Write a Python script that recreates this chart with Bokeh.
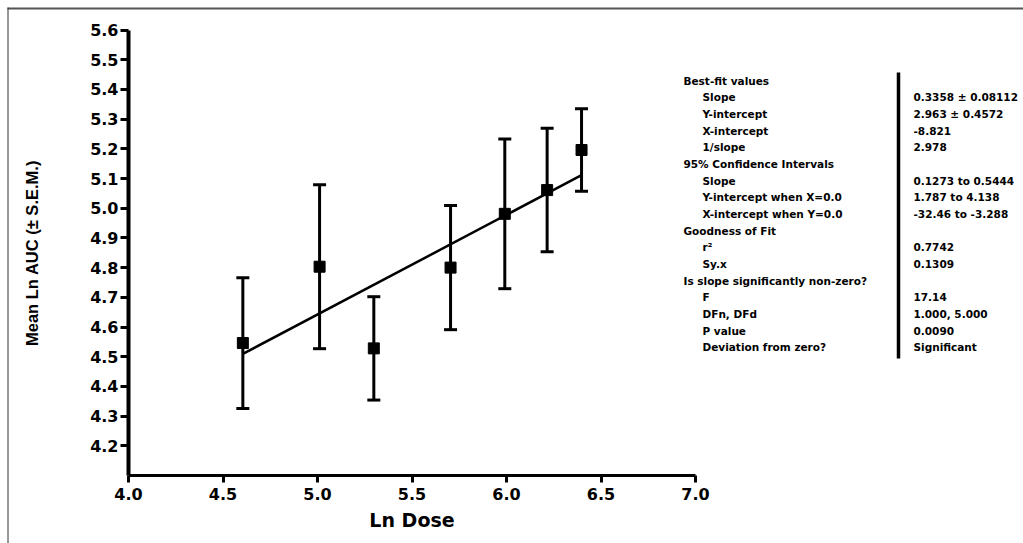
from bokeh.plotting import figure
from bokeh.models import (LinearAxis, FixedTicker, Range1d, ColumnDataSource,
                          Whisker, TeeHead, PrintfTickFormatter)
from bokeh.core.properties import value
from bokeh.embed import file_html
from bokeh.resources import INLINE

# ---------------- data ----------------
ln_dose = [4.605, 5.011, 5.298, 5.704, 5.991, 6.215, 6.397]
mean_ln_auc = [4.546, 4.803, 4.528, 4.800, 4.981, 5.061, 5.196]
sem = [0.220, 0.276, 0.174, 0.209, 0.252, 0.208, 0.139]
fit_slope = 0.3358
fit_intercept = 2.963

x_ticks = [4.0, 4.5, 5.0, 5.5, 6.0, 6.5, 7.0]
y_ticks = [4.2, 4.3, 4.4, 4.5, 4.6, 4.7, 4.8, 4.9, 5.0, 5.1, 5.2, 5.3, 5.4, 5.5, 5.6]

table_labels = ["Best-fit values", "Slope", "Y-intercept", "X-intercept", "1/slope",
                "95% Confidence Intervals", "Slope", "Y-intercept when X=0.0",
                "X-intercept when Y=0.0", "Goodness of Fit", "r²", "Sy.x",
                "Is slope significantly non-zero?", "F", "DFn, DFd", "P value",
                "Deviation from zero?"]
table_indent = [0, 1, 1, 1, 1, 0, 1, 1, 1, 0, 1, 1, 0, 1, 1, 1, 1]
table_values = ["", "0.3358 ± 0.08112", "2.963 ± 0.4572", "-8.821", "2.978", "",
                "0.1273 to 0.5444", "1.787 to 4.138", "-32.46 to -3.288", "",
                "0.7742", "0.1309", "", "17.14", "1.000, 5.000", "0.0090", "Significant"]

# ---------------- layout (pixel geometry) ----------------
W, H = 1023, 543
X0_PX, PX_PER_X = 128.0, 189.0      # x = 4.0 at X0_PX
Y_TOP_PX, PX_PER_Y = 29.5, 297.0    # y = 5.6 at Y_TOP_PX


def xd(px):
    return 4.0 + (px - X0_PX) / PX_PER_X


def yd(py):
    return 5.6 - (py - Y_TOP_PX) / PX_PER_Y


p = figure(width=W, height=H, x_range=Range1d(xd(0), xd(W)), y_range=Range1d(yd(H), yd(0)),
           output_backend="svg", toolbar_location=None,
           x_axis_location=None, y_axis_location=None, min_border=0,
           outline_line_color=None, background_fill_color="white", border_fill_color="white")
p.grid.grid_line_color = None
p.grid.visible = False

TICK_FONT = "DejaVu Sans"

xaxis = LinearAxis(fixed_location=4.1, bounds=(4.0, 7.0),
                   ticker=FixedTicker(ticks=x_ticks, minor_ticks=[]),
                   formatter=PrintfTickFormatter(format="%.1f"),
                   axis_label="Ln Dose")
xaxis.axis_line_width = 3
xaxis.axis_line_color = "black"
xaxis.major_tick_line_width = 3
xaxis.major_tick_out = 7
xaxis.major_tick_in = 0
xaxis.minor_tick_line_color = None
xaxis.major_label_text_font = TICK_FONT
xaxis.major_label_text_font_style = "bold"
xaxis.major_label_text_font_size = "16px"
xaxis.major_label_text_color = "black"
xaxis.major_label_standoff = 5
xaxis.axis_label_text_font = TICK_FONT
xaxis.axis_label_text_font_style = "bold"
xaxis.axis_label_text_font_size = "19px"
xaxis.axis_label_text_color = "black"
xaxis.axis_label_standoff = 6
p.add_layout(xaxis, "below")

yaxis = LinearAxis(fixed_location=4.0, bounds=(4.1, 5.6),
                   ticker=FixedTicker(ticks=y_ticks, minor_ticks=[]),
                   formatter=PrintfTickFormatter(format="%.1f"),
                   axis_label="Mean Ln AUC (± S.E.M.)")
yaxis.axis_line_width = 4
yaxis.axis_line_color = "black"
yaxis.major_tick_line_width = 3
yaxis.major_tick_out = 8
yaxis.major_tick_in = 0
yaxis.minor_tick_line_color = None
yaxis.major_label_text_font = TICK_FONT
yaxis.major_label_text_font_style = "bold"
yaxis.major_label_text_font_size = "16px"
yaxis.major_label_text_color = "black"
yaxis.major_label_standoff = 2
yaxis.axis_label_text_font = "Liberation Sans"
yaxis.axis_label_text_font_style = "bold"
yaxis.axis_label_text_font_size = "16.5px"
yaxis.axis_label_text_color = "black"
yaxis.axis_label_standoff = 46
p.add_layout(yaxis, "left")

# ---------------- data marks ----------------
upper = [m + s for m, s in zip(mean_ln_auc, sem)]
lower = [m - s for m, s in zip(mean_ln_auc, sem)]
src = ColumnDataSource(dict(x=ln_dose, y=mean_ln_auc, upper=upper, lower=lower))

whisker = Whisker(source=src, base="x", upper="upper", lower="lower",
                  line_width=3, line_color="black",
                  upper_head=TeeHead(size=13, line_width=3, line_color="black"),
                  lower_head=TeeHead(size=13, line_width=3, line_color="black"))
p.add_layout(whisker)

fit_x = [ln_dose[0], ln_dose[-1]]
fit_y = [fit_intercept + fit_slope * v for v in fit_x]
p.line(fit_x, fit_y, line_width=2.5, line_color="black")

p.scatter("x", "y", source=src, marker="square", size=11, color="black")

# ---------------- results table ----------------
ROW0_PX, ROW_STEP = 80.0, 16.68
lab_x, lab_y = [], []
for i, ind in enumerate(table_indent):
    lab_x.append(xd(702 if ind else 683))
    lab_y.append(yd(ROW0_PX + i * ROW_STEP))
val_x = [xd(913)] * len(table_values)

tsrc = ColumnDataSource(dict(x=lab_x + val_x, y=lab_y + lab_y, text=table_labels + table_values))
p.text(x="x", y="y", text="text", source=tsrc, text_font=value("DejaVu Sans"),
       text_font_style="bold", text_font_size="10.5px", text_color="black",
       text_baseline="middle", text_align="left")

p.segment(x0=[xd(898)], y0=[yd(72)], x1=[xd(898)], y1=[yd(358)],
          line_width=3.5, line_color="black")

# ---------------- page frame lines ----------------
p.segment(x0=[xd(7)], y0=[yd(8)], x1=[xd(W)], y1=[yd(8)], line_width=2, line_color="#555555")
p.segment(x0=[xd(7.5)], y0=[yd(7)], x1=[xd(7.5)], y1=[yd(H)], line_width=1, line_color="#333333")

open("out.html", "w").write(file_html(p, INLINE))
